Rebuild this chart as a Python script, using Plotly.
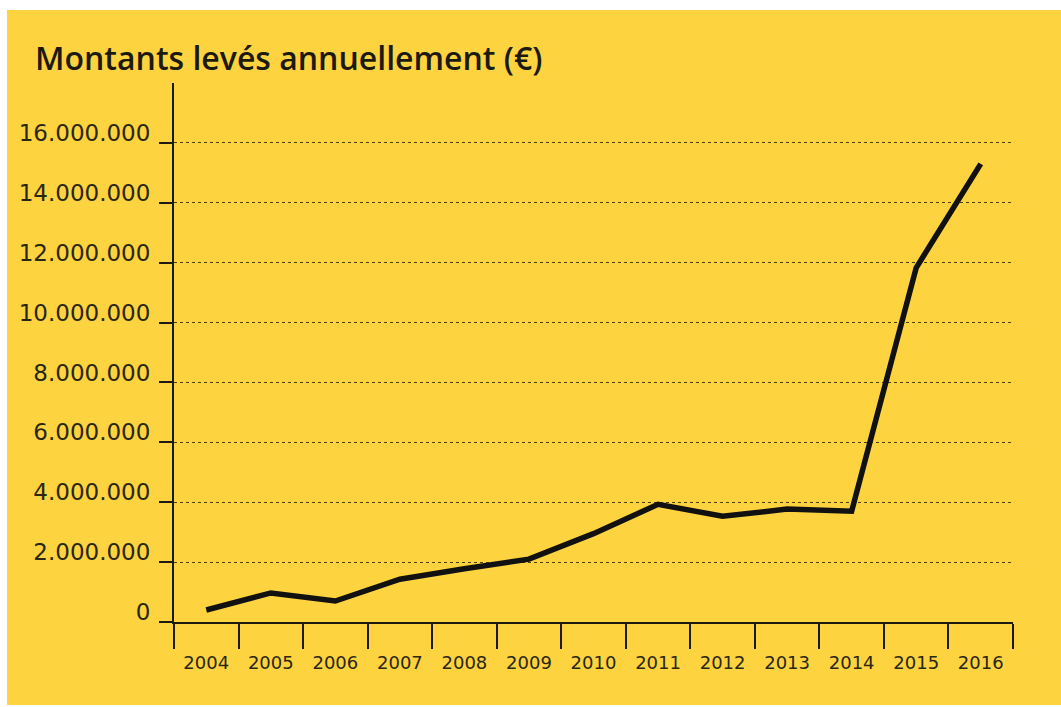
import plotly.graph_objects as go

years = ["2004", "2005", "2006", "2007", "2008", "2009", "2010",
         "2011", "2012", "2013", "2014", "2015", "2016"]
amounts = [400000, 970000, 700000, 1430000, 1780000, 2100000, 2950000,
           3930000, 3530000, 3770000, 3700000, 11830000, 15300000]
y_tickvals = [0, 2000000, 4000000, 6000000, 8000000, 10000000,
              12000000, 14000000, 16000000]
y_ticktext = ["0", "2.000.000", "4.000.000", "6.000.000", "8.000.000",
              "10.000.000", "12.000.000", "14.000.000", "16.000.000"]
title_text = "Montants levés annuellement (€)"

YELLOW = "#FDD33F"
INK = "#1c1a10"

fig = go.Figure()
fig.add_trace(go.Scatter(
    x=years, y=amounts, mode="lines",
    line=dict(color="#111111", width=5.5),
    hoverinfo="skip", showlegend=False,
))

fig.update_layout(
    width=1061, height=707,
    margin=dict(l=174, r=48, t=83, b=85),
    paper_bgcolor="white",
    plot_bgcolor="rgba(0,0,0,0)",
    font=dict(family="DejaVu Sans", color="#2a2614"),
    shapes=[dict(type="rect", xref="paper", yref="paper",
                 x0=-0.19905, x1=1.06, y0=-0.154, y1=1.1355,
                 fillcolor=YELLOW, line=dict(width=0), layer="below")],
    annotations=[dict(text=title_text, xref="paper", yref="paper",
                      x=-0.168, y=1.048, xanchor="left", yanchor="middle",
                      showarrow=False,
                      font=dict(family="Open Sans", size=32, color=INK, weight=600))],
)

fig.update_xaxes(
    type="category", tickson="boundaries",
    showline=True, linecolor=INK, linewidth=2,
    ticks="outside", ticklen=25, tickwidth=2, tickcolor=INK,
    tickfont=dict(size=18, color="#2a2614"),
    showgrid=False, zeroline=False,
    ticklabelstandoff=23,
    range=[-0.5, 12.5],
)

fig.update_yaxes(
    range=[0, 18000000],
    tickvals=y_tickvals, ticktext=y_ticktext,
    showline=True, linecolor=INK, linewidth=2,
    ticks="outside", ticklen=13, tickwidth=2, tickcolor=INK,
    tickfont=dict(size=23, color="#2a2614"),
    showgrid=True, gridcolor="#4a3f10", gridwidth=1, griddash="dot",
    zeroline=False,
    ticklabelshift=-10, ticklabelstandoff=4,
)

fig.write_html("out.html")
